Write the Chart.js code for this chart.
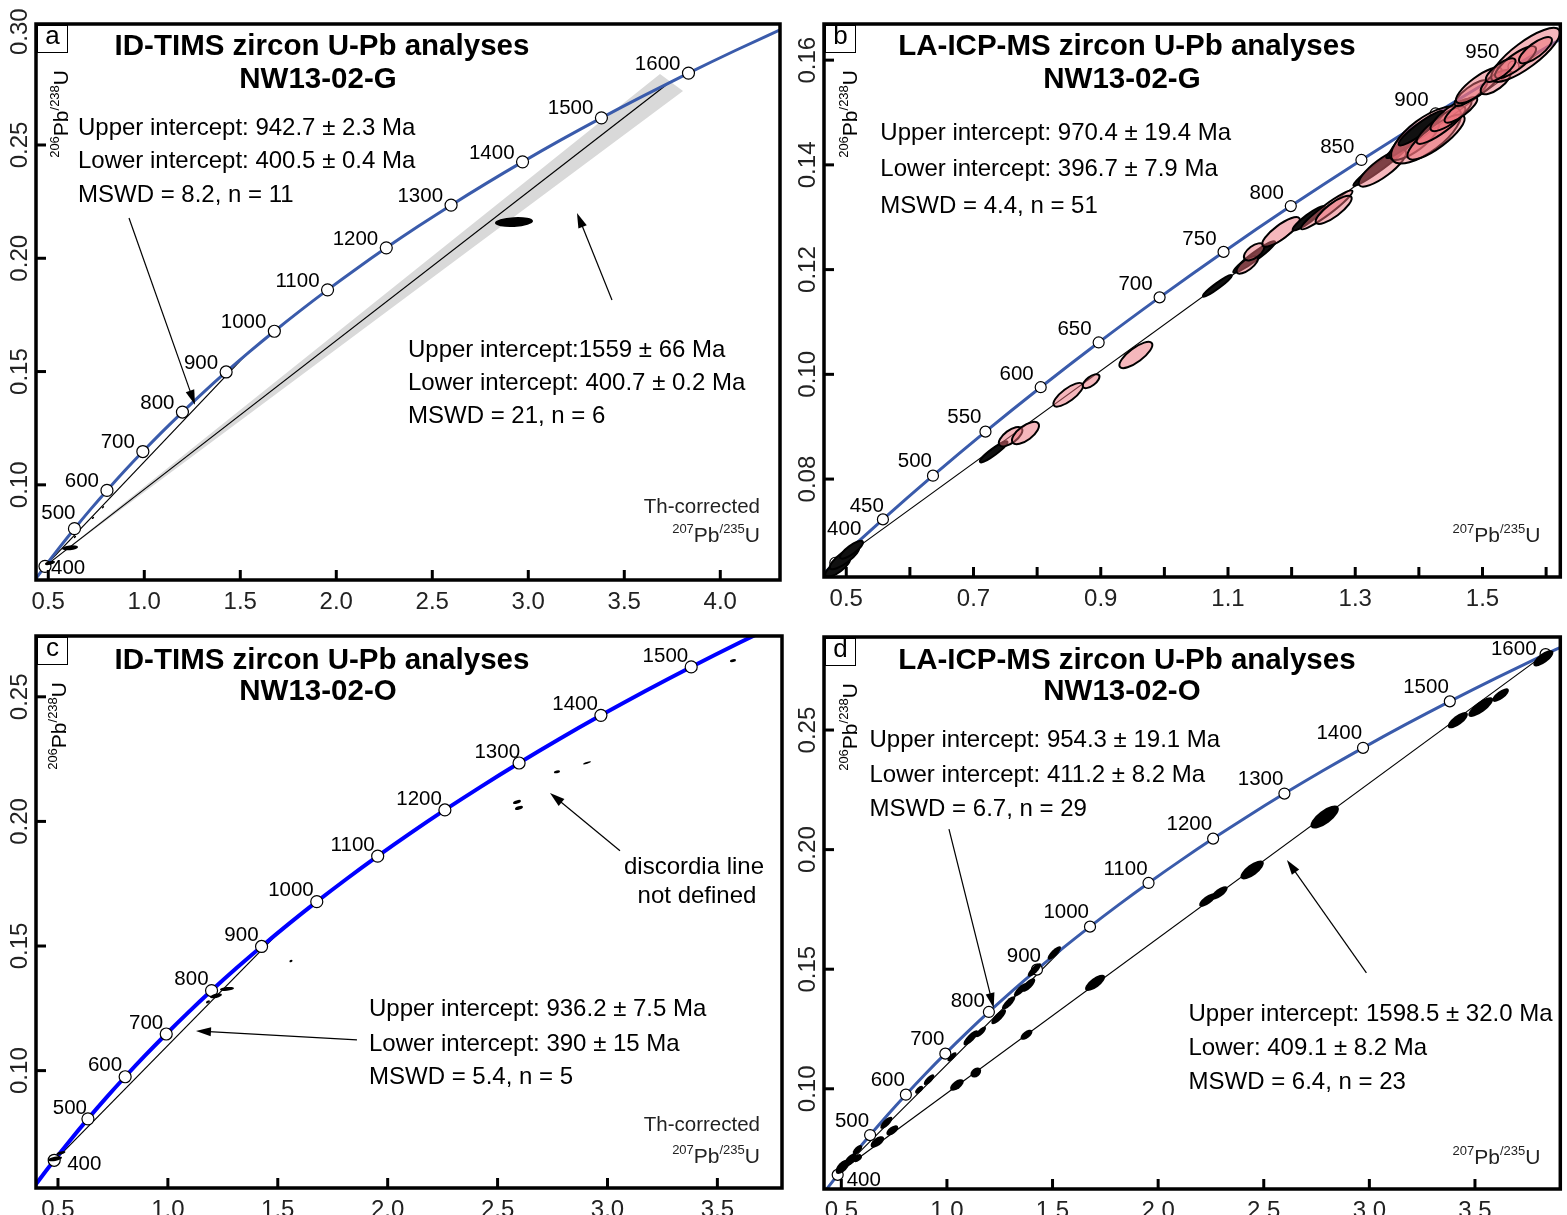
<!DOCTYPE html>
<html>
<head>
<meta charset="utf-8">
<title>Concordia NW13-02</title>
<script src="https://cdn.jsdelivr.net/npm/chart.js@4.4.1/dist/chart.umd.min.js"></script>
<style>
  html, body { margin: 0; padding: 0; background: #fff; }
  body { width: 1567px; height: 1215px; overflow: hidden; position: relative; }
  .panel { position: absolute; }
</style>
</head>
<body>
<div class="panel" style="left:0;top:0;width:790px;height:618px"><canvas id="chartA"></canvas></div>
<div class="panel" style="left:790px;top:0;width:777px;height:618px"><canvas id="chartB"></canvas></div>
<div class="panel" style="left:0;top:618px;width:790px;height:597px"><canvas id="chartC"></canvas></div>
<div class="panel" style="left:790px;top:618px;width:777px;height:597px"><canvas id="chartD"></canvas></div>
<script>
const FONT = 'Helvetica, "Liberation Sans", Arial, sans-serif';

// Đường concordia: tuổi (Ma), 207Pb/235U, 206Pb/238U
const concAge = [300, 350, 400, 450, 500, 550, 600, 650, 700, 750, 800, 850, 900, 950, 1000, 1050, 1100, 1150, 1200, 1250, 1300, 1350, 1400, 1450, 1500, 1550, 1600, 1650, 1700];
const conc207 = [0.3437, 0.4116, 0.4828, 0.5576, 0.6363, 0.7188, 0.8056, 0.8967, 0.9925, 1.0930, 1.1987, 1.3097, 1.4262, 1.5487, 1.6774, 1.8126, 1.9545, 2.1037, 2.2603, 2.4249, 2.5978, 2.7793, 2.9701, 3.1704, 3.3809, 3.6021, 3.8343, 4.0784, 4.3347];
const conc206 = [0.04764, 0.05580, 0.06402, 0.07230, 0.08065, 0.08906, 0.09754, 0.10609, 0.11470, 0.12338, 0.13213, 0.14094, 0.14982, 0.15878, 0.16780, 0.17690, 0.18606, 0.19529, 0.20460, 0.21398, 0.22343, 0.23296, 0.24256, 0.25224, 0.26199, 0.27181, 0.28172, 0.29170, 0.30175];

// Tuổi đánh dấu trên concordia
const markA = [400, 500, 600, 700, 800, 900, 1000, 1100, 1200, 1300, 1400, 1500, 1600];
const markB = [400, 450, 500, 550, 600, 650, 700, 750, 800, 850, 900, 950];
const markC = [400, 500, 600, 700, 800, 900, 1000, 1100, 1200, 1300, 1400, 1500];
const markD = [400, 500, 600, 700, 800, 900, 1000, 1100, 1200, 1300, 1400, 1500, 1600];

// Trục
const xTicksA = [0.5, 1.0, 1.5, 2.0, 2.5, 3.0, 3.5, 4.0];
const xLabA = ['0.5', '1.0', '1.5', '2.0', '2.5', '3.0', '3.5', '4.0'];
const yTicksA = [0.10, 0.15, 0.20, 0.25, 0.30];
const xTicksB = [0.5, 0.6, 0.7, 0.8, 0.9, 1.0, 1.1, 1.2, 1.3, 1.4, 1.5, 1.6];
const xLabB = ['0.5', '', '0.7', '', '0.9', '', '1.1', '', '1.3', '', '1.5', ''];
const yTicksB = [0.08, 0.10, 0.12, 0.14, 0.16];
const xTicksC = [0.5, 1.0, 1.5, 2.0, 2.5, 3.0, 3.5];
const xLabC = ['0.5', '1.0', '1.5', '2.0', '2.5', '3.0', '3.5'];
const yTicksC = [0.10, 0.15, 0.20, 0.25];
const xTicksD = [0.5, 1.0, 1.5, 2.0, 2.5, 3.0, 3.5];
const xLabD = ['0.5', '1.0', '1.5', '2.0', '2.5', '3.0', '3.5'];
const yTicksD = [0.10, 0.15, 0.20, 0.25];

// Đường discordia (hai đầu mút)
const discA1_207 = [0.4835, 1.5305], discA1_206 = [0.06410, 0.15746];
const discA2_207 = [0.4838, 3.7380], discA2_206 = [0.06413, 0.27780];
const bandA207 = [0.4838, 3.686, 3.806];
const bandA206 = [0.06413, 0.2813, 0.2738];
const discB_207 = [0.4780, 1.6004], discB_206 = [0.06347, 0.16245];
const discC_207 = [0.4683, 1.5143], discC_206 = [0.06237, 0.15630];
const discD1_207 = [0.4993, 1.5595], discD1_206 = [0.06587, 0.15955];
const discD2_207 = [0.4962, 3.8272], discD2_206 = [0.06552, 0.28142];

// Elip sai số: tâm, nửa trục x, nửa trục y, hệ số tương quan
const ellA207 = [2.9255, 0.6130, 0.5089, 0.6390, 0.7328, 0.7849];
const ellA206 = [0.2160, 0.0722, 0.0655, 0.0770, 0.0854, 0.0901];
const ellAsx = [0.099, 0.042, 0.026, 0.006, 0.006, 0.006];
const ellAsy = [0.0022, 0.0011, 0.0009, 0.0005, 0.0005, 0.0005];
const ellArho = [0.2, 0.3, 0.5, 0.5, 0.5, 0.5];

const ellB207 = [0.4864, 0.4973, 0.5083, 0.7317, 0.7583, 0.7817, 0.8489, 0.8848, 0.9552, 1.0833, 1.1411, 1.1302, 1.1411, 1.1833, 1.2270, 1.2552, 1.2661, 1.3411, 1.3427, 1.3802, 1.3927, 1.4114, 1.4270, 1.4036, 1.4348, 1.4505, 1.4661, 1.4817, 1.4942, 1.5208, 1.5677, 1.5520, 1.5286, 1.5833];
const ellB206 = [0.0632, 0.0650, 0.0665, 0.0852, 0.0881, 0.0888, 0.0961, 0.0987, 0.1037, 0.1169, 0.1224, 0.1209, 0.1234, 0.1272, 0.1298, 0.1314, 0.1314, 0.1400, 0.1394, 0.1442, 0.1447, 0.1457, 0.1453, 0.1470, 0.1476, 0.1495, 0.1505, 0.1537, 0.1552, 0.1558, 0.1610, 0.1596, 0.1581, 0.1619];
const ellBsx = [0.0195, 0.0231, 0.0180, 0.0216, 0.0185, 0.0212, 0.0233, 0.0132, 0.0259, 0.0228, 0.0329, 0.0170, 0.0161, 0.0296, 0.0254, 0.0405, 0.0283, 0.0441, 0.0373, 0.0316, 0.0389, 0.0550, 0.0450, 0.0355, 0.0383, 0.0322, 0.0257, 0.0257, 0.0360, 0.0236, 0.0540, 0.0322, 0.0233, 0.0259];
const ellBsy = [0.00188, 0.00220, 0.00170, 0.00200, 0.00186, 0.00213, 0.00226, 0.00133, 0.00251, 0.00208, 0.00301, 0.00168, 0.00164, 0.00282, 0.00235, 0.00370, 0.00269, 0.00401, 0.00355, 0.00290, 0.00376, 0.00542, 0.00429, 0.00329, 0.00359, 0.00306, 0.00245, 0.00245, 0.00343, 0.00232, 0.00515, 0.00306, 0.00226, 0.00251];
const ellBrho = [0.77, 0.82, 0.82, 0.92, 0.65, 0.65, 0.77, 0.65, 0.77, 0.95, 0.95, 0.71, 0.58, 0.82, 0.92, 0.95, 0.82, 0.97, 0.82, 0.95, 0.77, 0.71, 0.82, 0.92, 0.87, 0.82, 0.82, 0.82, 0.82, 0.71, 0.82, 0.82, 0.77, 0.77];
const ellBdark = [1, 1, 1, 1, 0, 0, 0, 0, 0, 1, 1, 0, 0, 0, 1, 0, 0, 1, 0, 1, 0, 0, 0, 1, 0, 0, 0, 0, 0, 0, 0, 0, 0, 0];

const ellC207 = [0.4864, 0.5137, 1.1824, 1.2188, 1.2689, 1.5600, 2.5883, 2.5974, 2.7702, 2.9067, 3.5710];
const ellC206 = [0.0646, 0.0670, 0.1276, 0.1300, 0.1328, 0.1440, 0.2078, 0.2054, 0.2199, 0.2235, 0.2645];
const ellCsx = [0.032, 0.020, 0.009, 0.027, 0.032, 0.007, 0.018, 0.018, 0.014, 0.018, 0.014];
const ellCsy = [0.0010, 0.0007, 0.0006, 0.0010, 0.0008, 0.0005, 0.0008, 0.0008, 0.0006, 0.0006, 0.0006];
const ellCrho = [0.5, 0.6, 0.5, 0.5, 0.3, 0.3, 0.5, 0.5, 0.3, 0.8, 0.3];

const ellD207 = [0.5061, 0.5438, 0.5767, 0.7132, 0.8685, 0.9155, 1.0238, 1.1132, 1.1602, 1.2449, 1.2920, 1.3485, 1.3861, 1.4144, 1.5085, 0.5767, 0.6708, 0.7414, 1.0473, 1.1367, 1.3767, 1.7014, 2.2332, 2.2896, 2.4449, 2.7885, 3.4190, 3.5273, 3.6214, 3.8238];
const ellD206 = [0.0674, 0.0703, 0.0745, 0.0858, 0.0996, 0.1038, 0.1134, 0.1213, 0.1238, 0.1301, 0.1359, 0.1414, 0.1434, 0.1497, 0.1568, 0.0710, 0.0778, 0.0826, 0.1016, 0.1068, 0.1226, 0.1443, 0.1789, 0.1819, 0.1915, 0.2136, 0.2541, 0.2596, 0.2646, 0.2800];
const ellDsx = [0.0334, 0.0297, 0.0223, 0.0286, 0.0186, 0.0250, 0.0215, 0.0352, 0.0250, 0.0352, 0.0317, 0.0317, 0.0322, 0.0317, 0.0317, 0.0207, 0.0323, 0.0282, 0.0323, 0.0254, 0.0282, 0.0473, 0.0395, 0.0395, 0.0552, 0.0670, 0.0473, 0.0586, 0.0395, 0.0473];
const ellDsy = [0.00297, 0.00264, 0.00198, 0.00254, 0.00165, 0.00222, 0.00190, 0.00312, 0.00222, 0.00312, 0.00281, 0.00281, 0.00286, 0.00281, 0.00281, 0.00161, 0.00240, 0.00210, 0.00240, 0.00209, 0.00210, 0.00339, 0.00282, 0.00282, 0.00395, 0.00480, 0.00339, 0.00412, 0.00282, 0.00339];
const ellDrho = [0.60, 0.60, 0.60, 0.72, 0.60, 0.72, 0.72, 0.78, 0.72, 0.78, 0.78, 0.78, 0.72, 0.78, 0.78, 0.45, 0.58, 0.58, 0.58, 0.30, 0.58, 0.71, 0.71, 0.71, 0.71, 0.71, 0.71, 0.77, 0.71, 0.71];

const RATIO207 = [['207', 13, 9], ['Pb', 21, 0], ['/235', 13, 9], ['U', 21, 0]];
const RATIO206 = [['206', 13, 9], ['Pb', 21, 0], ['/238', 13, 9], ['U', 21, 0]];

function concPoint(t) {
  const i = concAge.indexOf(t);
  return { x: conc207[i], y: conc206[i] };
}
function pairs(xs, ys) { return xs.map((v, i) => ({ x: v, y: ys[i] })); }

function drawRich(ctx, parts, x, y, align) {
  let w = 0;
  parts.forEach(p => { ctx.font = p[1] + 'px ' + FONT; w += ctx.measureText(p[0]).width; });
  let cx = align === 'right' ? x - w : (align === 'center' ? x - w / 2 : x);
  ctx.textAlign = 'left';
  ctx.textBaseline = 'alphabetic';
  parts.forEach(p => {
    ctx.font = p[1] + 'px ' + FONT;
    ctx.fillText(p[0], cx, y - p[2]);
    cx += ctx.measureText(p[0]).width;
  });
}

function arrow(ctx, x1, y1, x2, y2) {
  const a = Math.atan2(y2 - y1, x2 - x1), L = 15, W = 4.5;
  ctx.beginPath();
  ctx.moveTo(x1, y1);
  ctx.lineTo(x2 - (L - 2) * Math.cos(a), y2 - (L - 2) * Math.sin(a));
  ctx.stroke();
  ctx.beginPath();
  ctx.moveTo(x2, y2);
  ctx.lineTo(x2 - L * Math.cos(a) + W * Math.sin(a), y2 - L * Math.sin(a) - W * Math.cos(a));
  ctx.lineTo(x2 - L * Math.cos(a) - W * Math.sin(a), y2 - L * Math.sin(a) + W * Math.cos(a));
  ctx.closePath();
  ctx.fill();
}

// plugin vẽ khung, vạch chia, elip, chú thích
function decor(P) {
  return {
    id: 'decor' + P.letter,
    beforeDatasetsDraw(chart) {
      if (!P.band) return;
      const { ctx, chartArea: a, scales: { x, y } } = chart;
      ctx.save();
      ctx.beginPath(); ctx.rect(a.left, a.top, a.right - a.left, a.bottom - a.top); ctx.clip();
      ctx.fillStyle = '#d9d9d9';
      ctx.beginPath();
      P.band[0].forEach((v, i) => {
        const px = x.getPixelForValue(v), py = y.getPixelForValue(P.band[1][i]);
        if (i === 0) ctx.moveTo(px, py); else ctx.lineTo(px, py);
      });
      ctx.closePath(); ctx.fill();
      ctx.restore();
    },
    afterDatasetsDraw(chart) {
      const { ctx, chartArea: a, scales: { x, y } } = chart;
      const E = P.ell;
      ctx.save();
      ctx.beginPath(); ctx.rect(a.left, a.top, a.right - a.left, a.bottom - a.top); ctx.clip();
      E[0].forEach((cx, i) => {
        const px = x.getPixelForValue(cx), py = y.getPixelForValue(E[1][i]);
        const kx = x.getPixelForValue(cx + E[2][i]) - px;
        const ky = y.getPixelForValue(E[1][i] + E[3][i]) - py;
        const va = kx * kx, vd = ky * ky, cov = E[4][i] * kx * ky;
        const tr = (va + vd) / 2, df = Math.sqrt(((va - vd) / 2) ** 2 + cov * cov);
        const r1 = Math.sqrt(tr + df), r2 = Math.sqrt(Math.max(tr - df, 0.3));
        const ang = 0.5 * Math.atan2(2 * cov, va - vd);
        ctx.beginPath();
        ctx.ellipse(px, py, r1, r2, ang, 0, Math.PI * 2);
        const dark = E[5] ? E[5][i] : 1;
        if (P.pink) {
          ctx.fillStyle = dark ? '#111' : 'rgba(236,112,122,0.5)';
          ctx.fill();
          ctx.lineWidth = 2; ctx.strokeStyle = '#000'; ctx.stroke();
        } else {
          ctx.fillStyle = '#000'; ctx.fill();
        }
      });
      ctx.restore();
    },
    afterDraw(chart) {
      const { ctx, chartArea: a, scales: { x, y } } = chart;
      ctx.save();
      // vạch chia hướng vào trong
      ctx.strokeStyle = '#000'; ctx.lineWidth = 3;
      P.xTicks.forEach(v => {
        const px = x.getPixelForValue(v);
        ctx.beginPath(); ctx.moveTo(px, a.bottom); ctx.lineTo(px, a.bottom - 10); ctx.stroke();
      });
      P.yTicks.forEach(v => {
        const py = y.getPixelForValue(v);
        ctx.beginPath(); ctx.moveTo(a.left, py); ctx.lineTo(a.left + 10, py); ctx.stroke();
      });
      // khung
      ctx.lineWidth = 3.5;
      ctx.strokeRect(a.left, a.top, a.right - a.left, a.bottom - a.top);
      // nhãn trục y (xoay)
      ctx.fillStyle = '#222';
      ctx.font = '24px ' + FONT;
      P.yTicks.forEach(v => {
        const py = y.getPixelForValue(v);
        ctx.save();
        ctx.translate(a.left - 16, py); ctx.rotate(-Math.PI / 2);
        ctx.textAlign = 'center'; ctx.textBaseline = 'middle';
        ctx.fillText(v.toFixed(2), 0, 0);
        ctx.restore();
      });
      // ô chữ cái
      ctx.fillStyle = '#fff';
      ctx.fillRect(a.left + 2, a.top + 2, 30, 26);
      ctx.lineWidth = 1; ctx.strokeStyle = '#000';
      ctx.strokeRect(a.left + 1.5, a.top + 1.5, 30, 27);
      ctx.fillStyle = '#000';
      ctx.font = '26px ' + FONT; ctx.textAlign = 'center'; ctx.textBaseline = 'middle';
      ctx.fillText(P.letter, a.left + 16.5, a.top + 13);
      // nhãn trục 206Pb/238U
      ctx.save();
      ctx.translate(a.left + P.ytitleDx, a.top + 46); ctx.rotate(-Math.PI / 2);
      drawRich(ctx, RATIO206, 0, 7, 'right');
      ctx.restore();
      // nhãn tuổi
      ctx.fillStyle = '#000';
      ctx.font = '20.5px ' + FONT; ctx.textBaseline = 'middle';
      P.marks.forEach(t => {
        const c = concPoint(t);
        const o = P.labOff[t] || P.labOff.def;
        const px = x.getPixelForValue(c.x), py = y.getPixelForValue(c.y);
        ctx.textAlign = o[2];
        ctx.fillText(String(t), px + o[0], py + o[1]);
      });
      // tiêu đề
      ctx.font = 'bold 29.5px ' + FONT; ctx.textAlign = 'center';
      P.titles.forEach(s => ctx.fillText(s[0], x.getPixelForValue(s[1]), y.getPixelForValue(s[2])));
      // chú thích
      ctx.font = '24px ' + FONT;
      P.texts.forEach(s => {
        ctx.textAlign = s[3] || 'left';
        ctx.fillText(s[0], x.getPixelForValue(s[1]), y.getPixelForValue(s[2]));
      });
      ctx.lineWidth = 1.2; ctx.strokeStyle = '#000';
      P.arrows.forEach(s => arrow(ctx, x.getPixelForValue(s[0]), y.getPixelForValue(s[1]),
                                  x.getPixelForValue(s[2]), y.getPixelForValue(s[3])));
      ctx.fillStyle = '#222';
      if (P.corr) {
        ctx.font = '20.5px ' + FONT; ctx.textAlign = 'right';
        ctx.fillText('Th-corrected', x.getPixelForValue(P.corr[0]), y.getPixelForValue(P.corr[1]));
      }
      drawRich(ctx, RATIO207, x.getPixelForValue(P.ratio[0]), y.getPixelForValue(P.ratio[1]) + 8, 'right');
      ctx.restore();
    }
  };
}

function makePanel(P) {
  const [bx, by, bw, bh] = P.box;
  const [L, T, R, B] = P.area;
  const yW = L - bx, xH = by + bh - B;
  const datasets = [
    { data: P.marks.map(concPoint), showLine: false, pointRadius: P.markR,
      pointBackgroundColor: '#fff', pointBorderColor: '#000', pointBorderWidth: 1.2, order: 0 },
    { data: pairs(conc207, conc206), showLine: true, borderColor: P.concColor, borderWidth: P.concWidth,
      pointRadius: 0, cubicInterpolationMode: 'monotone', order: 1 }
  ];
  P.disc.forEach((d, i) => datasets.push({
    data: pairs(d[0], d[1]), showLine: true, borderColor: '#000', borderWidth: 1.2,
    pointRadius: 0, order: 2 + i
  }));
  new Chart(document.getElementById(P.id), {
    type: 'scatter',
    data: { datasets },
    options: {
      responsive: true, maintainAspectRatio: false, animation: false, devicePixelRatio: 1, events: [],
      layout: { padding: { left: 0, top: T - by, right: bx + bw - R, bottom: 0 } },
      plugins: { legend: { display: false }, tooltip: { enabled: false } },
      scales: {
        x: {
          type: 'linear', min: P.xMin, max: P.xMax,
          grid: { display: false }, border: { display: false },
          afterBuildTicks: s => { s.ticks = P.xTicks.map(v => ({ value: v })); },
          afterFit: s => { s.height = xH; },
          ticks: { autoSkip: false, maxRotation: 0, minRotation: 0, padding: 0, color: '#222',
                   font: { family: FONT, size: 24 }, callback: (v, i) => P.xLabels[i] }
        },
        y: {
          type: 'linear', min: P.yMin, max: P.yMax,
          grid: { display: false }, border: { display: false },
          afterBuildTicks: s => { s.ticks = P.yTicks.map(v => ({ value: v })); },
          afterFit: s => { s.width = yW; },
          ticks: { display: false }
        }
      }
    },
    plugins: [decor(P)]
  });
}

makePanel({
  id: 'chartA', letter: 'a', box: [0, 0, 790, 618], area: [36, 24, 780, 580],
  xMin: 0.436, xMax: 4.311, yMin: 0.058, yMax: 0.3034,
  xTicks: xTicksA, xLabels: xLabA, yTicks: yTicksA,
  marks: markA, markR: 6, concColor: '#3a5bab', concWidth: 3, ytitleDx: 25,
  disc: [[discA1_207, discA1_206], [discA2_207, discA2_206]],
  band: [bandA207, bandA206],
  ell: [ellA207, ellA206, ellAsx, ellAsy, ellArho, null], pink: false,
  labOff: { def: [-8, -9, 'right'], 400: [6, 2, 'left'], 500: [1, -15, 'right'] },
  titles: [['ID-TIMS zircon U-Pb analyses', 1.9255, 0.2932], ['NW13-02-G', 1.9047, 0.2787]],
  texts: [['Upper intercept: 942.7 ± 2.3 Ma', 0.6547, 0.2575], ['Lower intercept: 400.5 ± 0.4 Ma', 0.6547, 0.2429],
          ['MSWD = 8.2, n = 11', 0.6547, 0.2279], ['Upper intercept:1559 ± 66 Ma', 2.3734, 0.1595],
          ['Lower intercept: 400.7 ± 0.2 Ma', 2.3734, 0.1450], ['MSWD = 21, n = 6', 2.3734, 0.1304]],
  arrows: [[0.9203, 0.2178, 1.2641, 0.1353], [3.4359, 0.1816, 3.2536, 0.2200]],
  corr: [4.2068, 0.0902], ratio: [4.2068, 0.0783]
});

makePanel({
  id: 'chartB', letter: 'b', box: [790, 0, 777, 618], area: [824, 24, 1565, 577],
  xMin: 0.465, xMax: 1.6223, yMin: 0.0613, yMax: 0.1669,
  xTicks: xTicksB, xLabels: xLabB, yTicks: yTicksB,
  marks: markB, markR: 5.5, concColor: '#3a5bab', concWidth: 3, ytitleDx: 26,
  disc: [[discB_207, discB_206]],
  band: null,
  ell: [ellB207, ellB206, ellBsx, ellBsy, ellBrho, ellBdark], pink: true,
  labOff: { def: [-7, -13, 'right'], 400: [26, -33, 'right'], 450: [1, -13, 'right'], 500: [-1, -14, 'right'],
            550: [-4, -14, 'right'], 950: [-14, -14, 'right'] },
  titles: [['LA-ICP-MS zircon U-Pb analyses', 0.9411, 0.1625], ['NW13-02-G', 0.9333, 0.1562]],
  texts: [['Upper intercept: 970.4 ± 19.4 Ma', 0.5536, 0.1461], ['Lower intercept: 396.7 ± 7.9 Ma', 0.5536, 0.1392],
          ['MSWD = 4.4, n = 51', 0.5536, 0.1321]],
  arrows: [],
  corr: null, ratio: [1.5911, 0.0695]
});

makePanel({
  id: 'chartC', letter: 'c', box: [0, 618, 790, 597], area: [36, 636, 782, 1188],
  xMin: 0.40, xMax: 3.794, yMin: 0.0529, yMax: 0.2744,
  xTicks: xTicksC, xLabels: xLabC, yTicks: yTicksC,
  marks: markC, markR: 6, concColor: '#0000ff', concWidth: 4, ytitleDx: 23,
  disc: [[discC_207, discC_206]],
  band: null,
  ell: [ellC207, ellC206, ellCsx, ellCsy, ellCrho, null], pink: false,
  labOff: { def: [-3, -11, 'right'], 400: [13, 4, 'left'], 500: [-1, -11, 'right'], 1300: [1, -11, 'right'] },
  titles: [['ID-TIMS zircon U-Pb analyses', 1.7011, 0.2644], ['NW13-02-O', 1.6829, 0.2520]],
  texts: [['discordia line', 3.3936, 0.1817, 'center'], ['not defined', 3.4072, 0.1701, 'center'],
          ['Upper intercept: 936.2 ± 7.5 Ma', 1.915, 0.1244], ['Lower intercept: 390 ± 15 Ma', 1.915, 0.1107],
          ['MSWD = 5.4, n = 5', 1.915, 0.0971]],
  arrows: [[3.0569, 0.1882, 2.7384, 0.2114], [1.8603, 0.1123, 1.1278, 0.1159]],
  corr: [3.6938, 0.0782], ratio: [3.6938, 0.0662]
});

makePanel({
  id: 'chartD', letter: 'd', box: [790, 618, 777, 597], area: [824, 637, 1565, 1189],
  xMin: 0.418, xMax: 3.904, yMin: 0.0581, yMax: 0.2889,
  xTicks: xTicksD, xLabels: xLabD, yTicks: yTicksD,
  marks: markD, markR: 5.5, concColor: '#3a5bab', concWidth: 3, ytitleDx: 26,
  disc: [[discD1_207, discD1_206], [discD2_207, discD2_206]],
  band: null,
  ell: [ellD207, ellD206, ellDsx, ellDsy, ellDrho, null], pink: false,
  labOff: { def: [-1, -14, 'right'], 400: [9, 6, 'left'], 800: [-4, -11, 'right'], 900: [4, -13, 'right'],
            1600: [-9, -5, 'right'] },
  titles: [['LA-ICP-MS zircon U-Pb analyses', 1.852, 0.2788], ['NW13-02-O', 1.8285, 0.2658]],
  texts: [['Upper intercept: 954.3 ± 19.1 Ma', 0.6332, 0.2458], ['Lower intercept: 411.2 ± 8.2 Ma', 0.6332, 0.2312],
          ['MSWD = 6.7, n = 29', 0.6332, 0.2170], ['Upper intercept: 1598.5 ± 32.0 Ma', 2.1438, 0.1313],
          ['Lower: 409.1 ± 8.2 Ma', 2.1438, 0.1167], ['MSWD = 6.4, n = 23', 2.1438, 0.1025]],
  arrows: [[1.0096, 0.2086, 1.2214, 0.1338], [2.9861, 0.1485, 2.6096, 0.1957]],
  corr: null, ratio: [3.8096, 0.0720]
});
</script>
</body>
</html>
